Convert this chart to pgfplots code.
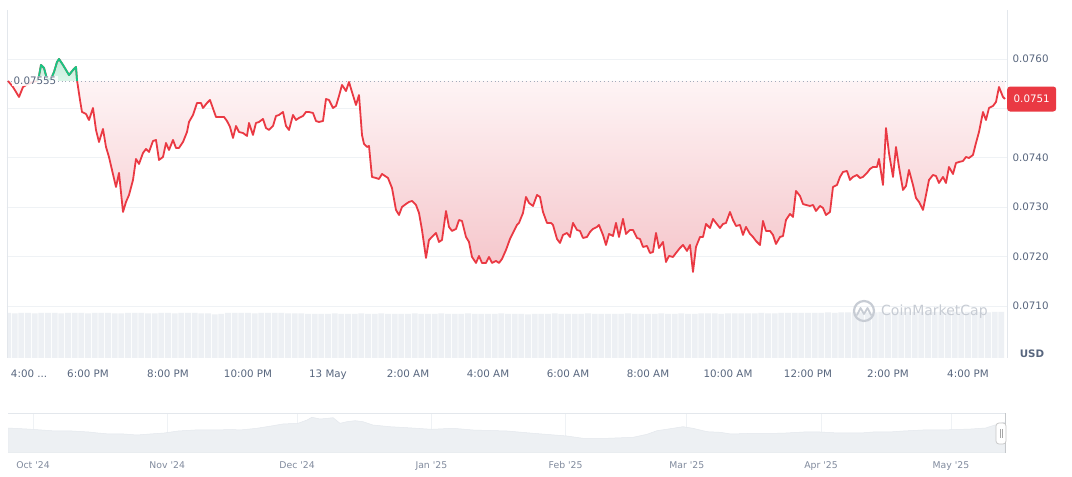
\documentclass[border=0pt]{standalone}
\usepackage{fontspec}
\setmainfont{DejaVu Sans}
\usepackage{pgfplots}
\pgfplotsset{compat=1.18}
\usepackage{pgfplotstable}
\definecolor{cmcred}{HTML}{EA3943}
\definecolor{cmcgreen}{HTML}{16C784}
\definecolor{gridc}{HTML}{EFF2F5}
\definecolor{framec}{HTML}{E3E7EC}
\definecolor{labc}{HTML}{58667E}
\definecolor{navlab}{HTML}{808A9D}
\definecolor{volc}{HTML}{EDF0F4}
\definecolor{wmc}{HTML}{C7CCD4}
\definecolor{redtop}{HTML}{FEF4F5}
\definecolor{redbot}{HTML}{F5C5CA}
\definecolor{greentop}{HTML}{BFEDD9}
\definecolor{greenbot}{HTML}{DDF6EA}
\definecolor{navfill}{HTML}{EDF0F3}
\definecolor{navline}{HTML}{E4E8ED}
\definecolor{dotc}{HTML}{A3ACBC}

\pgfplotstableread{
m p
0 0.075555
7.5 0.075433
16.5 0.075231
22.5 0.075433
30 0.075494
37.5 0.075534
43.5 0.075555
46.5 0.075656
49.5 0.075879
54 0.075818
58.5 0.075595
64.5 0.075595
69 0.075737
73.5 0.075939
76.5 0.076000
82.5 0.075879
91.5 0.075676
97.5 0.075777
102 0.075838
103.5 0.075575
103.7 0.075555
108 0.075170
111 0.074927
117 0.074887
121.5 0.074765
127.5 0.075008
132 0.074563
136.5 0.074320
142.5 0.074583
147 0.074219
151.5 0.074016
156 0.073753
162 0.073409
166.5 0.073693
172.5 0.072903
177 0.073106
181.5 0.073247
187.5 0.073551
192 0.073976
196.5 0.073875
202.5 0.074097
207 0.074178
211.5 0.074118
217.5 0.074340
222 0.074361
226.5 0.073956
232.5 0.074016
237 0.074300
241.5 0.074158
247.5 0.074361
252 0.074199
256.5 0.074199
262.5 0.074320
268.5 0.074522
271.5 0.074725
277.5 0.074867
283.5 0.075109
289.5 0.075109
292.5 0.075008
298.5 0.075109
303 0.075170
312 0.074826
318 0.074826
324 0.074826
328.5 0.074745
333 0.074624
337.5 0.074401
342 0.074644
346.5 0.074522
352.5 0.074502
358.5 0.074442
361.5 0.074705
367.5 0.074462
372 0.074705
376.5 0.074725
382.5 0.074786
387 0.074603
391.5 0.074563
397.5 0.074644
402 0.074846
406.5 0.074867
412.5 0.074927
417 0.074644
421.5 0.074563
427.5 0.074867
432 0.074765
436.5 0.074806
442.5 0.074846
447 0.074927
451.5 0.074927
457.5 0.074907
462 0.074745
466.5 0.074725
472.5 0.074745
477 0.075190
481.5 0.075170
487.5 0.075008
492 0.075049
496.5 0.075251
501 0.075474
507 0.075352
511.5 0.075534
516 0.075332
522 0.075069
526.5 0.075271
531 0.074462
534 0.074280
538.5 0.074219
541.5 0.074239
546 0.073612
552 0.073591
556.5 0.073571
561 0.073672
565.5 0.073632
570 0.073591
576 0.073389
582 0.072944
586.5 0.072842
591 0.073004
597 0.073065
601.5 0.073106
606 0.073126
612 0.073045
616.5 0.072883
621 0.072539
627 0.071972
631.5 0.072336
636 0.072397
642 0.072478
646.5 0.072296
651 0.072336
657 0.072923
661.5 0.072600
666 0.072519
672 0.072559
676.5 0.072741
681 0.072721
687 0.072397
691.5 0.072296
696 0.071992
702 0.071871
706.5 0.072013
711 0.071871
717 0.071871
721.5 0.071992
726 0.071871
732 0.071911
736.5 0.071871
741 0.071952
747 0.072134
753 0.072357
757.5 0.072478
763.5 0.072640
766.5 0.072681
772.5 0.072883
777 0.073207
781.5 0.073086
787.5 0.073025
793.5 0.073247
798 0.073207
802.5 0.072903
808.5 0.072681
814.5 0.072681
817.5 0.072640
823.5 0.072357
828 0.072276
832.5 0.072438
838.5 0.072478
843 0.072397
847.5 0.072681
853.5 0.072539
858 0.072519
862.5 0.072377
868.5 0.072397
873 0.072498
877.5 0.072559
883.5 0.072600
886.5 0.072640
892.5 0.072438
897 0.072235
901.5 0.072458
907.5 0.072417
912 0.072681
916.5 0.072397
922.5 0.072762
927 0.072458
933 0.072539
937.5 0.072539
943.5 0.072377
948 0.072357
952.5 0.072195
958.5 0.072215
963 0.072073
967.5 0.072093
972 0.072478
976.5 0.072174
982.5 0.072296
987 0.071891
991.5 0.072013
997.5 0.071992
1002 0.072073
1008 0.072174
1012.5 0.072235
1018.5 0.072114
1023 0.072235
1027.5 0.071689
1032 0.072195
1038 0.072397
1042.5 0.072397
1047 0.072660
1053 0.072579
1057.5 0.072762
1062 0.072681
1068 0.072579
1072.5 0.072660
1077 0.072681
1083 0.072903
1087.5 0.072741
1092 0.072620
1098 0.072640
1102.5 0.072438
1107 0.072600
1113 0.072458
1117.5 0.072397
1122 0.072316
1128 0.072235
1132.5 0.072721
1137 0.072519
1143 0.072519
1147.5 0.072438
1152 0.072256
1158 0.072397
1162.5 0.072417
1167 0.072741
1173 0.072863
1177.5 0.072802
1182 0.073328
1188 0.073227
1192.5 0.073065
1197 0.073045
1203 0.073025
1207.5 0.073045
1212 0.072923
1218 0.073025
1222.5 0.072984
1227 0.072842
1233 0.072903
1237.5 0.073409
1243.5 0.073450
1248 0.073612
1252.5 0.073713
1258.5 0.073733
1263 0.073551
1267.5 0.073612
1273.5 0.073652
1278 0.073591
1282.5 0.073612
1288.5 0.073693
1293 0.073774
1297.5 0.073814
1303.5 0.073814
1306.5 0.073976
1312.5 0.073450
1317 0.074603
1321.5 0.074097
1327.5 0.073612
1332 0.074219
1336.5 0.073814
1342.5 0.073349
1347 0.073430
1351.5 0.073753
1357.5 0.073450
1362 0.073187
1366.5 0.073106
1372.5 0.072944
1377 0.073247
1381.5 0.073551
1387.5 0.073652
1392 0.073632
1396.5 0.073490
1402.5 0.073612
1407 0.073490
1411.5 0.073814
1417.5 0.073672
1422 0.073895
1426.5 0.073915
1432.5 0.073935
1437 0.074016
1441.5 0.073996
1447.5 0.074057
1452 0.074300
1456.5 0.074522
1462.5 0.074927
1467 0.074765
1471.5 0.075008
1477.5 0.075049
1482 0.075130
1486.5 0.075433
1492.5 0.075231
1495.5 0.075190
}\pricedata

\pgfplotstableread{
m p
43.5 0.075555
46.5 0.075656
49.5 0.075879
54 0.075818
58.5 0.075595
64.5 0.075595
69 0.075737
73.5 0.075939
76.5 0.076000
82.5 0.075879
91.5 0.075676
97.5 0.075777
102 0.075838
103.5 0.075575
103.7 0.075555
}\greendata

\pgfplotstableread{
d v
-5.8 25
-1.4 24
2.0 23
5.1 22
9.0 22
12.9 21
15.0 20
17.6 19
21.0 19
24.0 18
27.0 19
30.3 20
33.5 22
37.4 23
42.0 23
46.0 23.5
47.8 23
51.7 24.7
55.4 27.3
57.7 29
61.2 29.7
63.3 33
64.4 35.7
66.3 34
68.1 34.7
69.3 35.3
70.9 29.7
72.5 31.3
74.4 32.3
76.2 31.3
78.5 28
82.4 26.3
86.4 25.3
92.1 23.7
97.0 24.7
101.6 23
109.5 22
115.5 19.7
123.3 17
127.0 14.7
132.6 14.7
138.6 15.7
141.8 18.7
144.1 22.3
147.8 24.7
150.1 26.3
152.4 24.7
155.7 21.3
158.7 20.7
161.2 19
165.0 19.5
170.0 19.5
173.9 20
178.0 21
181.8 21
186.0 20
191.2 20
194.0 21
197.7 21
201.0 22
205.5 23
210.0 23
216.6 24
220.0 25
222.9 29
224.5 31
}\navdata

\begin{document}
\begin{tikzpicture}
\fill[white] (0pt,0pt) rectangle (1072pt,477pt);
\path[use as bounding box] (0pt,0pt) rectangle (1072pt,477pt);

% volume
\begin{axis}[at={(7pt,119pt)}, anchor=south west, scale only axis,
  width=1000pt, height=47pt, xmin=-1.5, xmax=1498.5, ymin=0, ymax=1,
  hide axis]
\addplot[ybar, bar width=8.6, fill=volc, draw=none] coordinates {
(0,0.96) (10,0.95) (20,0.96) (30,0.96) (40,0.95) (50,0.96) (60,0.96) (70,0.96) (80,0.95) (90,0.96)
(100,0.96) (110,0.96) (120,0.95) (130,0.96) (140,0.96) (150,0.96) (160,0.95) (170,0.95) (180,0.96) (190,0.96)
(200,0.96) (210,0.95) (220,0.95) (230,0.96) (240,0.96) (250,0.95) (260,0.96) (270,0.96) (280,0.96) (290,0.95)
(300,0.95) (310,0.93) (320,0.94) (330,0.96) (340,0.96) (350,0.96) (360,0.96) (370,0.95) (380,0.96) (390,0.96)
(400,0.96) (410,0.96) (420,0.95) (430,0.95) (440,0.95) (450,0.94) (460,0.94) (470,0.94) (480,0.94) (490,0.95)
(500,0.94) (510,0.94) (520,0.94) (530,0.95) (540,0.94) (550,0.94) (560,0.95) (570,0.94) (580,0.94) (590,0.94)
(600,0.94) (610,0.95) (620,0.94) (630,0.94) (640,0.94) (650,0.95) (660,0.94) (670,0.94) (680,0.94) (690,0.95)
(700,0.94) (710,0.94) (720,0.94) (730,0.94) (740,0.95) (750,0.94) (760,0.94) (770,0.94) (780,0.93) (790,0.94)
(800,0.94) (810,0.94) (820,0.95) (830,0.94) (840,0.94) (850,0.94) (860,0.94) (870,0.95) (880,0.94) (890,0.94)
(900,0.94) (910,0.94) (920,0.94) (930,0.95) (940,0.94) (950,0.94) (960,0.94) (970,0.94) (980,0.95) (990,0.94)
(1000,0.94) (1010,0.95) (1020,0.94) (1030,0.94) (1040,0.95) (1050,0.95) (1060,0.95) (1070,0.94) (1080,0.95) (1090,0.95)
(1100,0.95) (1110,0.95) (1120,0.95) (1130,0.96) (1140,0.95) (1150,0.95) (1160,0.96) (1170,0.96) (1180,0.96) (1190,0.96)
(1200,0.96) (1210,0.96) (1220,0.96) (1230,0.97) (1240,0.96) (1250,0.97) (1260,0.97) (1270,0.97) (1280,0.97) (1290,0.97)
(1300,0.97) (1310,0.98) (1320,0.97) (1330,0.98) (1340,0.98) (1350,0.98) (1360,0.98) (1370,0.98) (1380,0.98) (1390,0.98)
(1400,0.98) (1410,0.98) (1420,0.98) (1430,0.98) (1440,0.98) (1450,0.98) (1460,0.98) (1470,0.97) (1480,0.98) (1490,0.98)
};
\end{axis}

% price
\begin{axis}[at={(7pt,119pt)}, anchor=south west, scale only axis,
  width=1000pt, height=348pt,
  xmin=-1.5, xmax=1498.5, ymin=0.069947, ymax=0.076992,
  clip=false,
  axis line style={draw=none},
  tick style={draw=none}, major tick length=0pt,
  scaled y ticks=false,
  ytick={0.071,0.072,0.073,0.074,0.075,0.076,0.077},
  yticklabels={0.0710,0.0720,0.0730,0.0740,{},0.0760,{}},
  yticklabel pos=right,
  yticklabel style={anchor=west, xshift=2pt, font=\fontsize{10.3}{12}\selectfont, text=labc},
  ymajorgrids, grid style={gridc, line width=0.8pt},
  xtick={0,120,240,360,480,600,720,840,960,1080,1200,1320,1440},
  xticklabels={\makebox[0pt][l]{\hspace{3pt}4:00 ...},6:00 PM,8:00 PM,10:00 PM,13 May,2:00 AM,4:00 AM,6:00 AM,8:00 AM,10:00 AM,12:00 PM,2:00 PM,4:00 PM},
  xticklabel style={anchor=base, yshift=-19.8pt, inner sep=0pt, font=\fontsize{10.3}{12}\selectfont, text=labc},
]
\draw[framec, line width=0.8pt] (rel axis cs:0,0) -- (rel axis cs:0,1);
\draw[framec, line width=0.8pt] (rel axis cs:1,0) -- (rel axis cs:1,1);
% red area below the opening price
\addplot[draw=none, top color=redtop, bottom color=redbot, forget plot,
  y filter/.expression={min(\pgfmathresult,0.075555)}]
  table[x=m, y=p] {\pricedata} -- (axis cs:1495.5,0.075555) -- cycle;
% green area above the opening price
\addplot[draw=none, top color=greentop, bottom color=greenbot, forget plot]
  table[x=m, y=p] {\greendata} -- cycle;
\addplot[dotc, line width=0.8pt, dash pattern=on 0.9pt off 3pt] coordinates {(-1.5,0.075555) (1498.5,0.075555)};
\addplot[cmcred, line width=1.8pt, line join=round] table[x=m, y=p] {\pricedata};
\addplot[cmcgreen, line width=1.8pt, line join=round] table[x=m, y=p] {\greendata};
\node[anchor=west, fill=white, fill opacity=0.85, text opacity=1, inner sep=1.5pt, text=labc, font=\fontsize{10.3}{12}\selectfont] at (axis cs:6,0.075555) {0.07555};
\node[anchor=west, fill=cmcred, text=white, rounded corners=3pt, minimum height=25pt, inner xsep=6.5pt, font=\fontsize{10.3}{12}\selectfont] at (axis cs:1498.5,0.07519) {0.0751};
\end{axis}

% navigator
\begin{axis}[at={(8pt,24pt)}, anchor=south west, scale only axis,
  width=997pt, height=40pt, xmin=-5.774, xmax=224.48, ymin=0, ymax=40,
  axis line style={draw=none}, tick style={draw=none}, major tick length=0pt,
  ytick=\empty,
  xtick={0,31,61,92,123,151,182,212},
  xticklabels={Oct {\textquotesingle}24,Nov {\textquotesingle}24,Dec {\textquotesingle}24,Jan {\textquotesingle}25,Feb {\textquotesingle}25,Mar {\textquotesingle}25,Apr {\textquotesingle}25,May {\textquotesingle}25},
  xticklabel style={anchor=base, yshift=-16pt, inner sep=0pt, font=\fontsize{9.3}{11}\selectfont, text=navlab},
  xmajorgrids, grid style={gridc, line width=0.8pt},
]
\draw[framec, line width=0.8pt] (rel axis cs:0,1) -- (rel axis cs:1,1);
\addplot[fill=navfill, draw=navline, line width=0.5pt] table[x=d, y=v] {\navdata} \closedcycle;
\draw[framec, line width=0.8pt] (rel axis cs:0,0) -- (rel axis cs:1,0);
\end{axis}

% navigator handle
\draw[framec!70!gray, line width=0.8pt] (1005pt,24pt) -- (1005pt,64pt);
\draw[fill=white, draw=gray!45, line width=0.7pt, rounded corners=3pt] (996pt,33pt) rectangle (1006pt,54pt);
\draw[gray!70, line width=0.6pt] (999.8pt,39pt) -- (999.8pt,48pt) (1002.2pt,39pt) -- (1002.2pt,48pt);

% USD
\node[text=labc, font=\bfseries\fontsize{10.3}{12}\selectfont] at (1032pt,123pt) {USD};

% watermark
\draw[wmc, line width=2.2pt] (864pt,166pt) circle (10pt);
\draw[wmc, line width=1.8pt, line join=round, line cap=round] (857pt,162pt) -- (860.5pt,169pt) -- (864pt,163pt) -- (867.5pt,169pt) -- (871pt,162pt);
\node[anchor=west, text=wmc, font=\fontsize{14}{16}\selectfont, inner sep=0pt] at (881pt,165.5pt) {CoinMarketCap};
\end{tikzpicture}
\end{document}
